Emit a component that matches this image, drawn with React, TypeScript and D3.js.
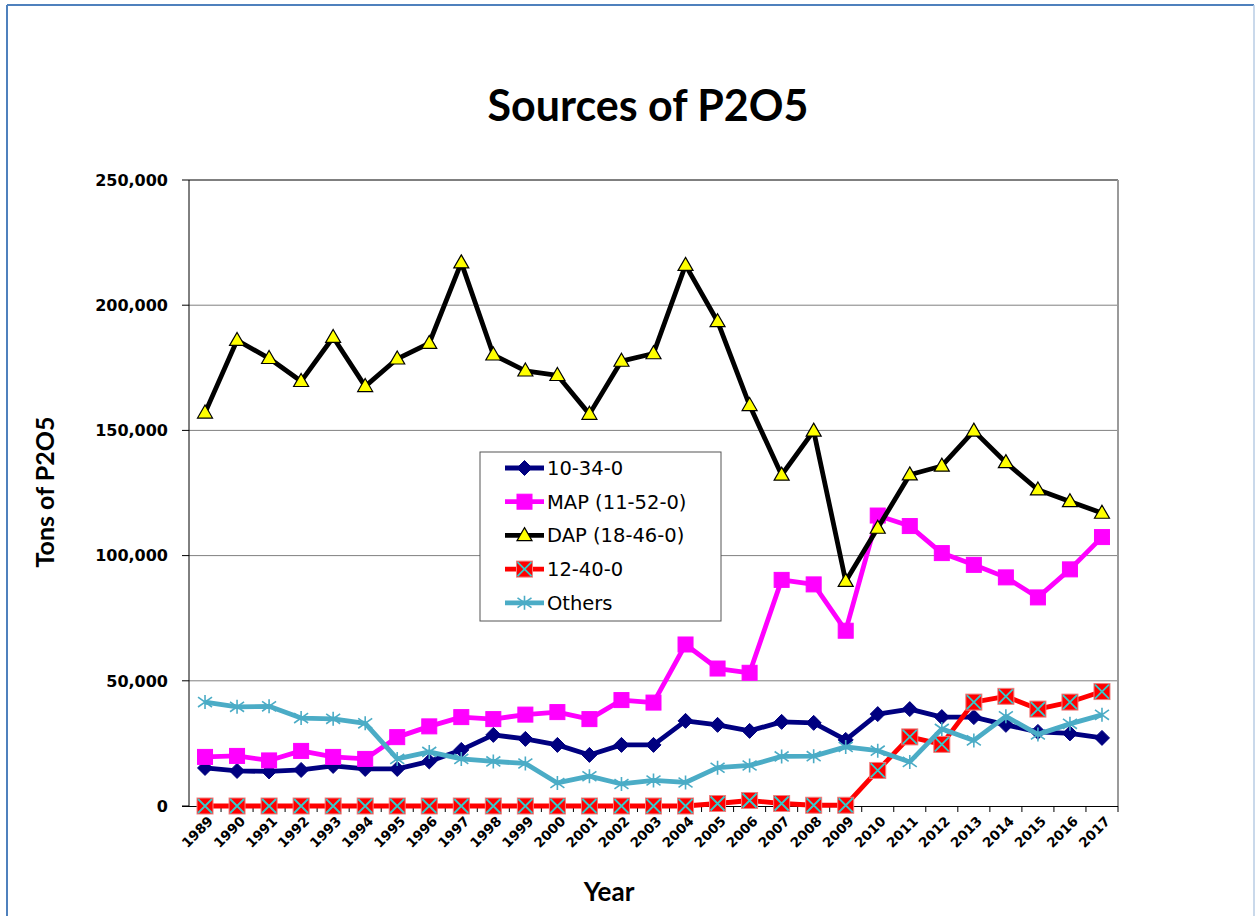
import React from "react";
import * as d3 from "d3";

const years = [
  "1989","1990","1991","1992","1993","1994","1995","1996","1997","1998",
  "1999","2000","2001","2002","2003","2004","2005","2006","2007","2008",
  "2009","2010","2011","2012","2013","2014","2015","2016","2017",
];

const s10340 = [15200,14000,13800,14400,16000,14800,14800,17800,22400,28400,26800,24400,20400,24400,24400,34000,32400,30000,33600,33200,26400,36700,38700,35500,35500,32400,29600,29000,27200];
const sMAP = [19600,20000,18200,22000,19600,18800,27500,31800,35500,34700,36500,37500,34700,42300,41300,64500,54900,53200,90300,88500,70000,116000,111800,101000,96300,91300,83300,94500,107400];
const sDAP = [157000,186000,178800,169600,187200,167600,178600,184800,217000,180200,173800,172000,156500,177700,180700,216000,193500,160000,132200,149800,89800,111000,132300,135800,149800,137200,126300,121600,117000];
const s12400 = [0,0,0,0,0,0,0,0,0,0,0,0,0,0,0,0,1000,2200,1000,300,300,14200,27600,24600,41500,43800,38700,41500,45700];
const sOthers = [41500,39600,39800,35100,34800,33000,18800,21600,18800,17800,17000,9200,11900,8800,10200,9400,15300,16200,19800,19900,23600,22100,17600,30800,26200,35800,28600,32800,36400];

const yTicks = [0, 50000, 100000, 150000, 200000, 250000];

type Series = { name: string; values: number[]; color: string; marker: string };
const series: Series[] = [
  { name: "10-34-0", values: s10340, color: "#000080", marker: "diamond" },
  { name: "MAP (11-52-0)", values: sMAP, color: "#FF00FF", marker: "square" },
  { name: "DAP (18-46-0)", values: sDAP, color: "#000000", marker: "triangle" },
  { name: "12-40-0", values: s12400, color: "#FF0000", marker: "xsquare" },
  { name: "Others", values: sOthers, color: "#4BACC6", marker: "star" },
];

function Marker({ kind, x, y }: { kind: string; x: number; y: number }) {
  if (kind === "diamond") {
    const r = 7.5;
    return <path d={`M${x},${y - r}L${x + r},${y}L${x},${y + r}L${x - r},${y}Z`} fill="#000080" stroke="#000080" strokeWidth={1} />;
  }
  if (kind === "square") {
    const r = 7.5;
    return <rect x={x - r} y={y - r} width={2 * r} height={2 * r} fill="#FF00FF" stroke="#FF00FF" strokeWidth={1} />;
  }
  if (kind === "triangle") {
    const w = 7.5, h = 13;
    return <path d={`M${x},${y - h * 0.6}L${x + w},${y + h * 0.4}L${x - w},${y + h * 0.4}Z`} fill="#FFFF00" stroke="#000" strokeWidth={1.2} />;
  }
  if (kind === "xsquare") {
    const r = 8;
    return (
      <g>
        <rect x={x - r} y={y - r} width={2 * r} height={2 * r} fill="#FF0000" stroke="#F08080" strokeWidth={1} />
        <path d={`M${x - r + 1},${y - r + 1}L${x + r - 1},${y + r - 1}M${x + r - 1},${y - r + 1}L${x - r + 1},${y + r - 1}`} stroke="#33CCCC" strokeWidth={1.8} />
      </g>
    );
  }
  const r = 7;
  return (
    <path
      d={`M${x},${y - r}L${x},${y + r}M${x - r},${y - r * 0.7}L${x + r},${y + r * 0.7}M${x + r},${y - r * 0.7}L${x - r},${y + r * 0.7}`}
      stroke="#4BACC6" strokeWidth={1.6} fill="none"
    />
  );
}

export default function App() {
  const left = 189, right = 1118, top = 180, bottom = 806;
  const x = d3.scaleBand<string>().domain(years).range([left, right]).padding(0);
  const y = d3.scaleLinear().domain([0, 250000]).range([bottom, top]);
  const cx = (i: number) => (x(years[i]) as number) + x.bandwidth() / 2;
  const line = d3.line<number>().x((_, i) => cx(i)).y((v) => y(v));
  const fmt = d3.format(",");
  const bodyFont = "'DejaVu Sans', Verdana, sans-serif";
  const titleFont = "Lato, 'Open Sans', sans-serif";

  const legX = 480, legY = 452, legW = 241, legH = 169;

  return (
    <svg width={1255} height={916} style={{ position: "absolute", left: 0, top: 0, background: "#fff" }}>
      <rect x={0} y={0} width={1255} height={916} fill="#fff" />
      {/* outer frame */}
      <line x1={7} y1={5} x2={1254} y2={5} stroke="#4F81BD" strokeWidth={2} />
      <line x1={7} y1={5} x2={7} y2={916} stroke="#4F81BD" strokeWidth={2} />
      <line x1={1254} y1={5} x2={1254} y2={916} stroke="#B9CDE5" strokeWidth={1.5} />

      <text x={648} y={121} textAnchor="middle" fontFamily={titleFont} fontWeight="bold" fontSize={43} fill="#000">Sources of P2O5</text>

      {/* gridlines */}
      {yTicks.filter((t) => t > 0 && t < 250000).map((t) => (
        <line key={t} x1={left} x2={right} y1={y(t)} y2={y(t)} stroke="#808080" strokeWidth={1} />
      ))}
      <line x1={left} x2={right} y1={top} y2={top} stroke="#000" strokeWidth={1} />
      <line x1={right} x2={right} y1={top} y2={bottom} stroke="#9a9a9a" strokeWidth={2} />

      {/* y axis */}
      <line x1={left} x2={left} y1={top} y2={bottom + 1} stroke="#000" strokeWidth={1} />
      {yTicks.map((t) => (
        <g key={t}>
          <line x1={left - 7} x2={left} y1={y(t)} y2={y(t)} stroke="#000" strokeWidth={1} />
          <text x={168} y={y(t)} dy="0.36em" textAnchor="end" fontFamily={bodyFont} fontWeight="bold" fontSize={16} fill="#000">{fmt(t)}</text>
        </g>
      ))}

      {/* x axis */}
      <line x1={left - 7} x2={right} y1={bottom + 0.5} y2={bottom + 0.5} stroke="#000" strokeWidth={1} />
      {years.map((yr) => (
        <line key={"t" + yr} x1={(x(yr) as number) + x.bandwidth()} x2={(x(yr) as number) + x.bandwidth()} y1={bottom} y2={bottom + 6} stroke="#000" strokeWidth={1} />
      ))}
      {years.map((yr, i) => (
        <text key={"l" + yr} transform={`translate(${cx(i) + 9},${bottom + 16}) rotate(-45)`} textAnchor="end" fontFamily={bodyFont} fontWeight="bold" fontSize={13.5} fill="#000">{yr}</text>
      ))}

      {/* series */}
      {series.map((s) => (
        <g key={s.name}>
          <path d={line(s.values) as string} fill="none" stroke={s.color} strokeWidth={4.8} strokeLinejoin="round" />
          {s.values.map((v, i) => (
            <Marker key={i} kind={s.marker} x={cx(i)} y={y(v)} />
          ))}
        </g>
      ))}

      {/* axis titles */}
      <text x={609} y={901} textAnchor="middle" fontFamily={titleFont} fontWeight="bold" fontSize={26} fill="#000">Year</text>
      <text transform={`translate(54,492) rotate(-90)`} textAnchor="middle" fontFamily={titleFont} fontWeight="bold" fontSize={25} fill="#000">Tons of P2O5</text>

      {/* legend */}
      <rect x={legX} y={legY} width={legW} height={legH} fill="#fff" stroke="#555" strokeWidth={1} />
      {series.map((s, i) => {
        const ly = 468 + i * 33.7;
        return (
          <g key={"lg" + s.name}>
            <line x1={505} x2={544} y1={ly} y2={ly} stroke={s.color} strokeWidth={4.8} />
            <Marker kind={s.marker} x={524.5} y={ly} />
            <text x={547} y={ly} dy="0.36em" fontFamily={bodyFont} fontSize={19.5} fill="#000">{s.name}</text>
          </g>
        );
      })}
    </svg>
  );
}
